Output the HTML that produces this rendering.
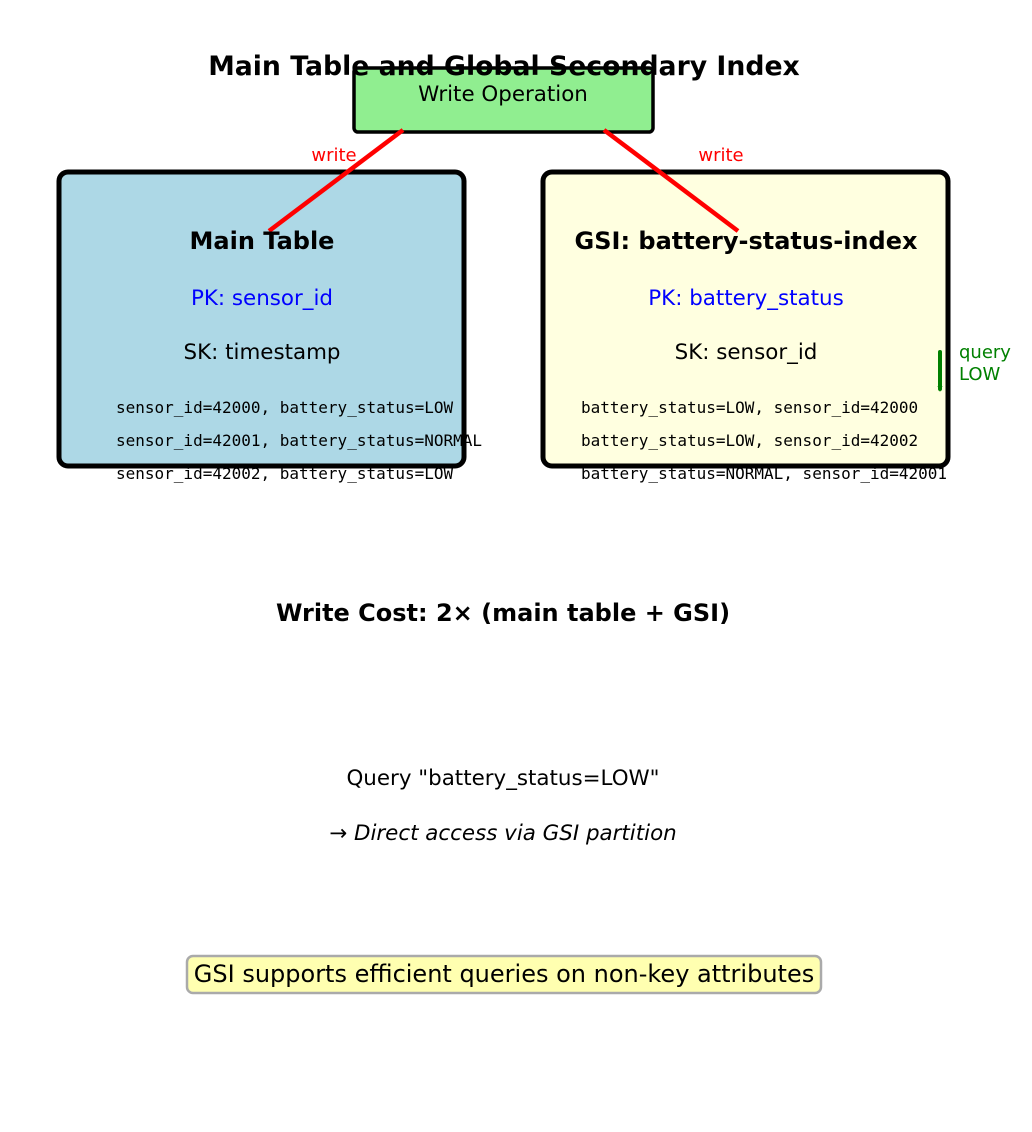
<!DOCTYPE html>
<html><head><meta charset="utf-8"><style>
body{margin:0;background:#fff}
svg{display:block}
text{font-family:"DejaVu Sans","Liberation Sans",sans-serif}
.m{font-family:"DejaVu Sans Mono","Liberation Mono",monospace;font-size:16px}
</style></head><body>
<svg width="1032" height="1132" viewBox="0 0 1032 1132" xmlns="http://www.w3.org/2000/svg">
<rect x="59" y="172" width="405" height="294" rx="9" fill="#add8e6" stroke="#000" stroke-width="5"/>
<rect x="543" y="172" width="405" height="294" rx="9" fill="#ffffe0" stroke="#000" stroke-width="5"/>
<rect x="354" y="68" width="299" height="64" rx="4" fill="#90ee90" stroke="#000" stroke-width="3.5"/>
<text x="504" y="75" text-anchor="middle" font-size="26.7" font-weight="bold">Main Table and Global Secondary Index</text>
<text x="503" y="101" text-anchor="middle" font-size="21.4">Write Operation</text>
<line x1="403" y1="130" x2="269" y2="231" stroke="red" stroke-width="4.5"/>
<line x1="604" y1="130" x2="738" y2="231" stroke="red" stroke-width="4.5"/>
<text x="334" y="161" text-anchor="middle" font-size="18" fill="red">write</text>
<text x="721" y="161" text-anchor="middle" font-size="18" fill="red">write</text>
<text x="262" y="249" text-anchor="middle" font-size="24" font-weight="bold">Main Table</text>
<text x="262" y="305" text-anchor="middle" font-size="21.4" fill="blue">PK: sensor_id</text>
<text x="262" y="359" text-anchor="middle" font-size="21.4">SK: timestamp</text>
<text x="116" y="413" class="m">sensor_id=42000, battery_status=LOW</text>
<text x="116" y="446" class="m">sensor_id=42001, battery_status=NORMAL</text>
<text x="116" y="479" class="m">sensor_id=42002, battery_status=LOW</text>
<text x="746" y="249" text-anchor="middle" font-size="24" font-weight="bold">GSI: battery-status-index</text>
<text x="746" y="305" text-anchor="middle" font-size="21.4" fill="blue">PK: battery_status</text>
<text x="746" y="359" text-anchor="middle" font-size="21.4">SK: sensor_id</text>
<text x="581" y="413" class="m">battery_status=LOW, sensor_id=42000</text>
<text x="581" y="446" class="m">battery_status=LOW, sensor_id=42002</text>
<text x="581" y="479" class="m">battery_status=NORMAL, sensor_id=42001</text>
<line x1="940" y1="352" x2="940" y2="389" stroke="green" stroke-width="4" stroke-linecap="round"/>
<path d="M937.5 386 L942.5 386 L940 392 Z" fill="green"/>
<text x="959" y="358" font-size="18" fill="green">query</text>
<text x="959" y="380" font-size="18" fill="green">LOW</text>
<text x="503" y="621" text-anchor="middle" font-size="24" font-weight="bold">Write Cost: 2× (main table + GSI)</text>
<text x="503" y="785" text-anchor="middle" font-size="21.4">Query "battery_status=LOW"</text>
<text x="503" y="840" text-anchor="middle" font-size="21.4" font-style="italic">→ Direct access via GSI partition</text>
<rect x="187" y="956" width="634" height="37" rx="6" fill="#ffffb0" stroke="#aaa" stroke-width="2.5"/>
<text x="504" y="982" text-anchor="middle" font-size="24">GSI supports efficient queries on non-key attributes</text>
</svg>
</body></html>
